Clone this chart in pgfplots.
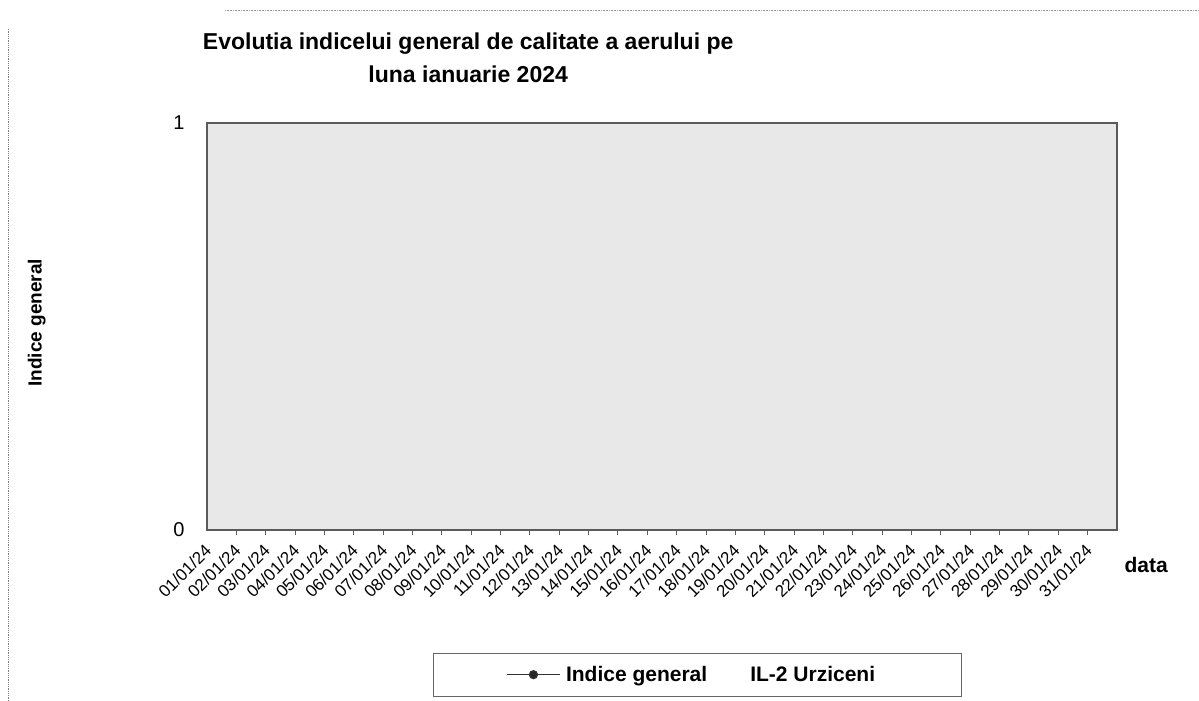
\documentclass[border=0pt]{standalone}
\usepackage{fontspec}
\setmainfont{Liberation Sans}
\usepackage{pgfplots}
\pgfplotsset{compat=1.18}
\definecolor{plotbg}{RGB}{232,232,232}
\definecolor{axisgray}{RGB}{90,90,90}
\begin{document}
\begin{tikzpicture}
\useasboundingbox (0pt,0pt) rectangle (1199pt,701pt);
\draw[black!50, densely dotted, line width=0.8pt] (8pt,0pt) -- (8pt,672pt);
\draw[black!40, densely dotted, line width=0.6pt] (225pt,691pt) -- (1199pt,691pt);
\begin{axis}[
  at={(207pt,171pt)}, anchor=south west,
  scale only axis, width=910pt, height=407pt,
  xmin=-0.5, xmax=30.5, ymin=0, ymax=1,
  axis background/.style={fill=plotbg},
  axis line style={axisgray, line width=1.3pt},
  xtick={0,...,30},
  xticklabels={01/01/24,02/01/24,03/01/24,04/01/24,05/01/24,06/01/24,07/01/24,08/01/24,09/01/24,10/01/24,11/01/24,12/01/24,13/01/24,14/01/24,15/01/24,16/01/24,17/01/24,18/01/24,19/01/24,20/01/24,21/01/24,22/01/24,23/01/24,24/01/24,25/01/24,26/01/24,27/01/24,28/01/24,29/01/24,30/01/24,31/01/24},
  minor x tick num=1,
  major tick length=0pt,
  minor tick length=5pt,
  tick align=outside,
  tick style={axisgray, line width=1pt},
  xtick pos=bottom, ytick pos=left,
  ytick={0,1},
  /pgf/number format/assume math mode=true,
  ticklabel style={font=\fontsize{20}{24}\selectfont},
  xticklabel style={font=\fontsize{17}{20}\selectfont, inner sep=0pt, xshift=-18pt, yshift=-13pt, rotate=45, anchor=north east},
  yticklabel style={xshift=-19pt},
  title={Evolutia indicelui general de calitate a aerului pe\\luna ianuarie 2024},
  title style={at={(axis description cs:0.287,1.145)}, anchor=center, align=center, font=\fontsize{23}{33}\selectfont\bfseries},
  ylabel={Indice general},
  ylabel style={at={(axis description cs:-0.187,0.509)}, anchor=center, font=\fontsize{19}{23}\selectfont\bfseries},
  xlabel={data},
  xlabel style={at={(axis description cs:1.032,-0.086)}, anchor=center, font=\fontsize{21}{25}\selectfont\bfseries},
  legend style={at={(axis description cs:0.2484,-0.302)}, anchor=north west,
    draw=black!60, line width=0.8pt, fill=white,
    inner xsep=0pt, inner ysep=13pt, column sep=0pt,
    nodes={inner sep=0pt},
    font=\fontsize{21}{25}\selectfont\bfseries},
  legend image code/.code={
    \path[draw=none, fill=none] (0pt,-5pt) rectangle (0pt,5pt);
    \draw[#1, mark repeat=2, mark phase=2] plot coordinates {(74pt,0pt) (100pt,0pt) (127pt,0pt)};
  },
]
\addlegendimage{black!80, line width=1.2pt, mark=*, mark size=4pt, mark options={solid, fill=black!85}}
\addlegendentry{\makebox[400pt][l]{\hspace*{5pt}Indice general\hspace{43pt}IL-2 Urziceni}}
\end{axis}
\end{tikzpicture}
\end{document}
